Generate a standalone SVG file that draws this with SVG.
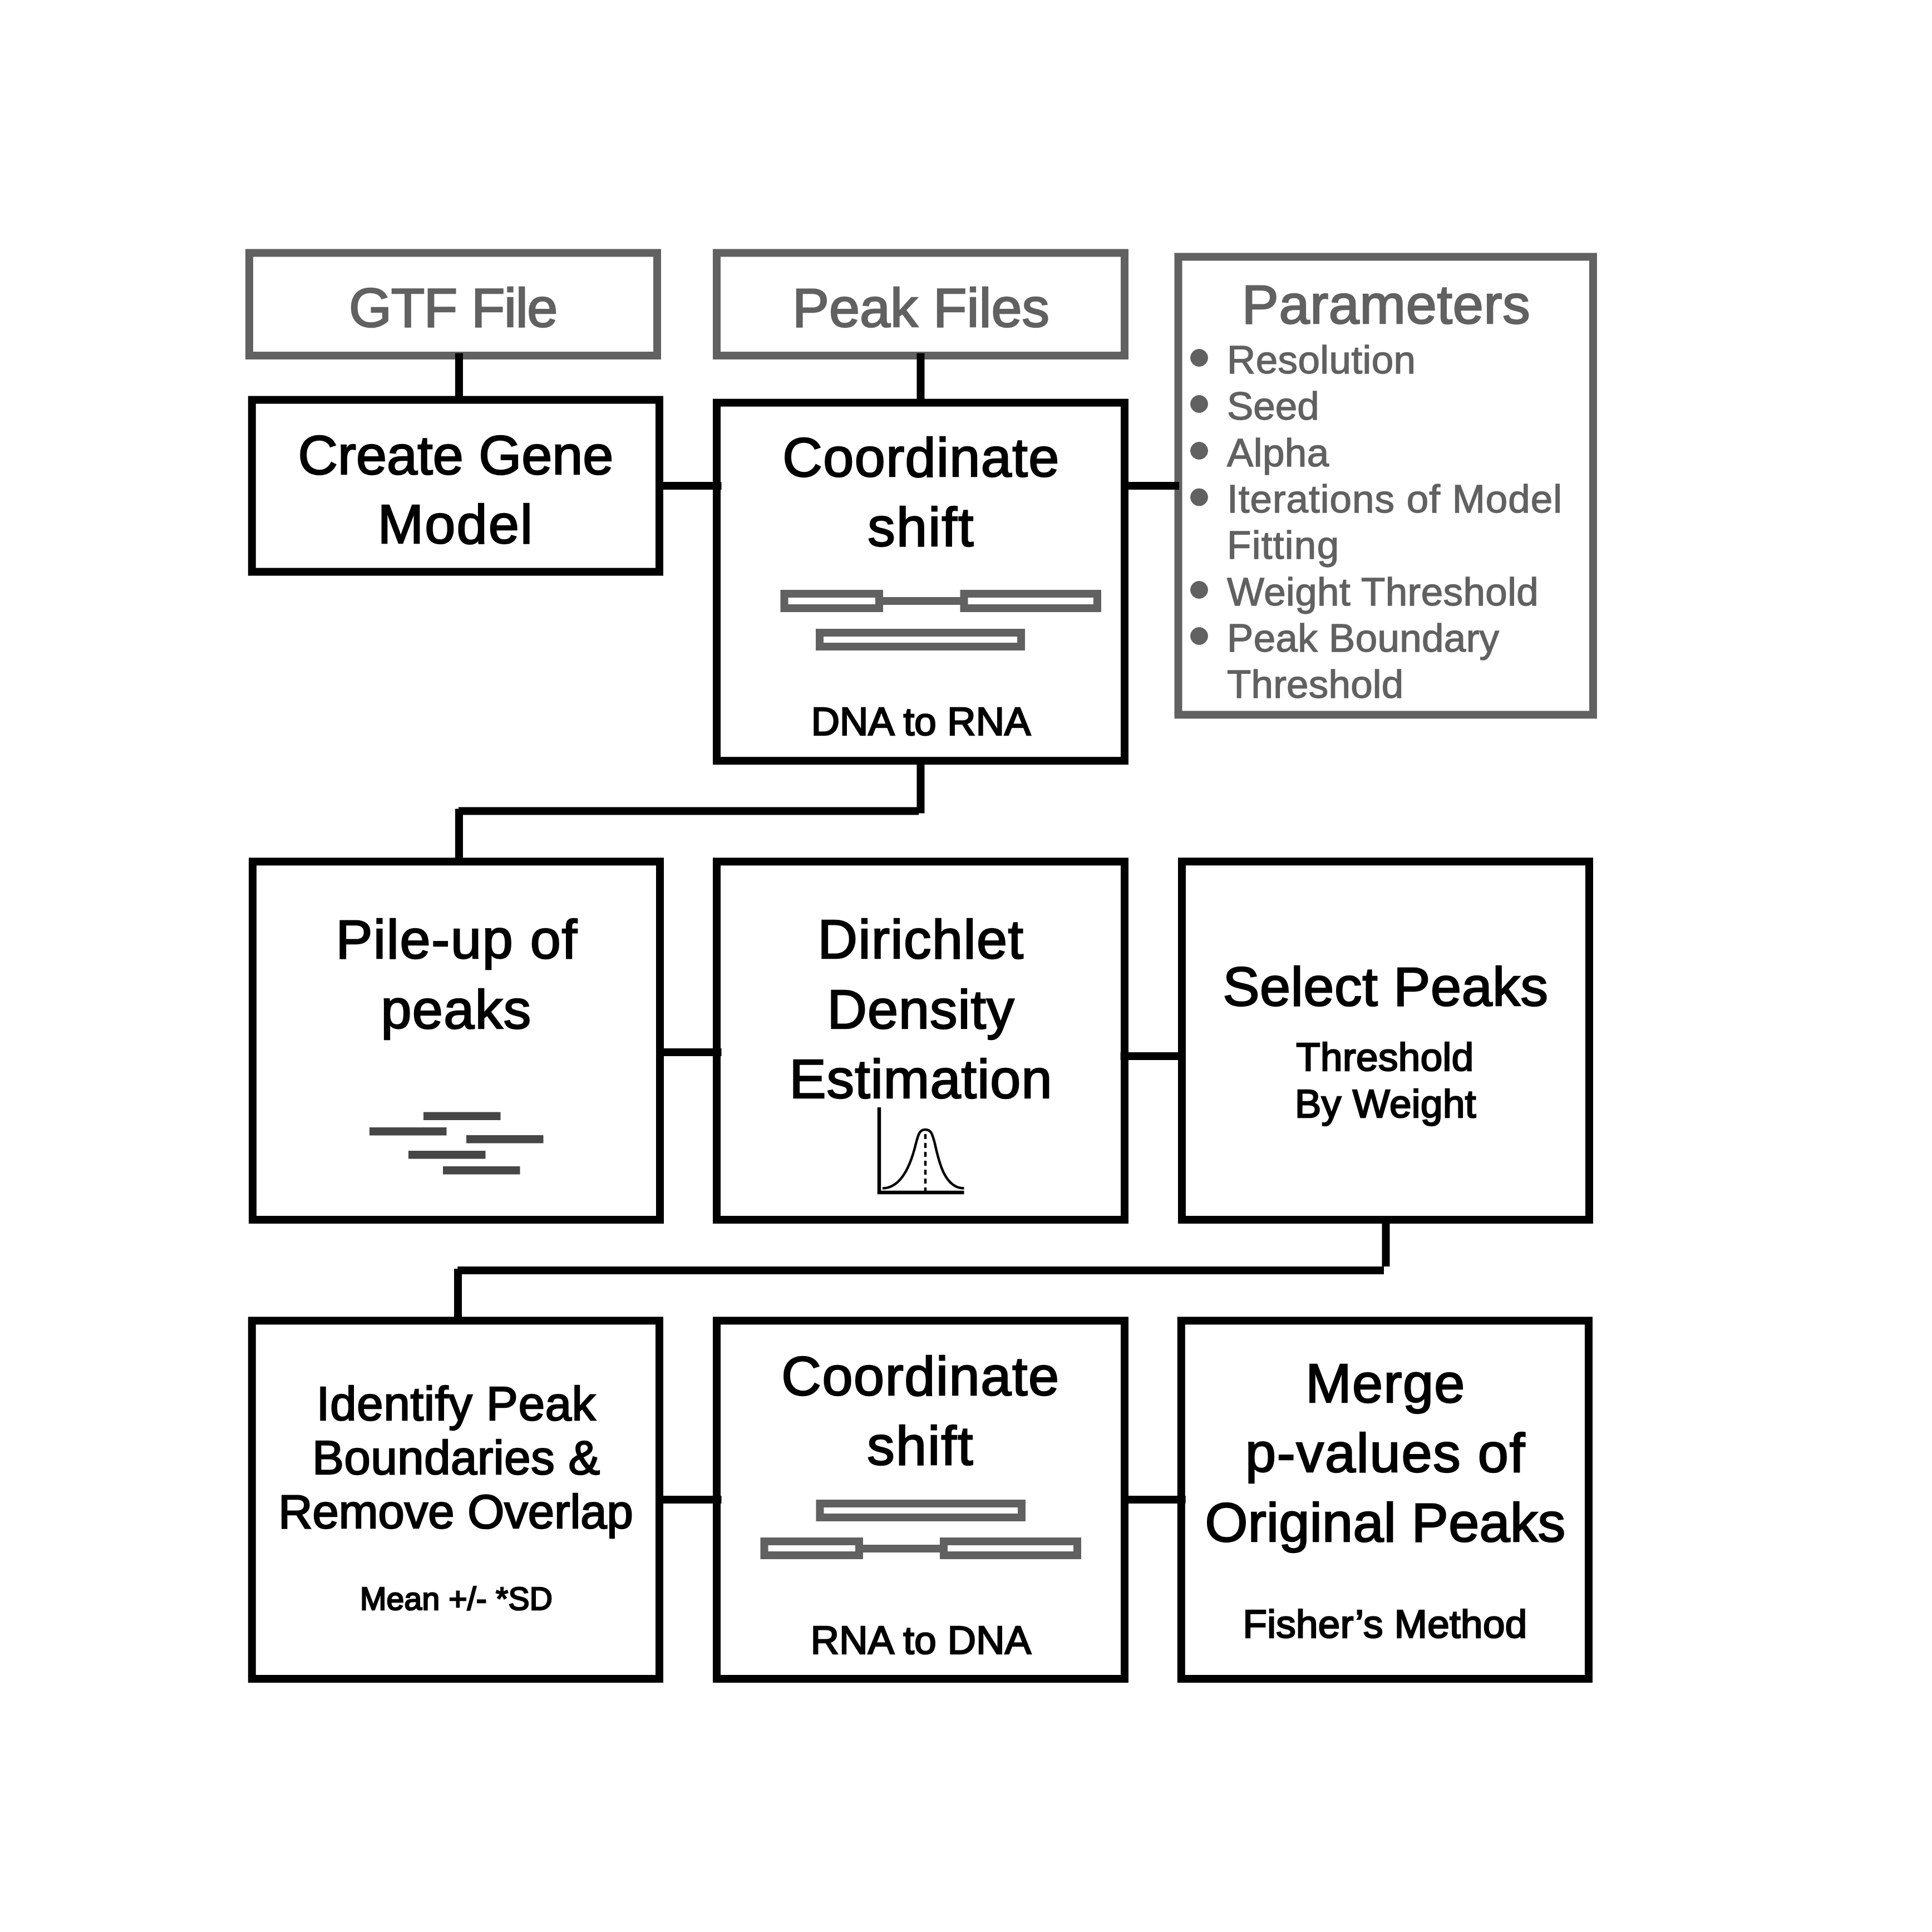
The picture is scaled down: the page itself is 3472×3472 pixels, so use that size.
<svg xmlns="http://www.w3.org/2000/svg" width="3472" height="3472" viewBox="0 0 3472 3472">
<style>
text{font-family:"Liberation Sans",Arial,sans-serif;text-anchor:middle;fill:#000;stroke:#000;stroke-width:2.5px}
.b{fill:#fff;stroke:#000;stroke-width:14}
.g{fill:#fff;stroke:#616161;stroke-width:14}
.gt,.gt text{fill:#616161;stroke:#616161}
.h{font-size:99px}
.m{font-size:85px}
.s{font-size:71px}
.xs{font-size:57px}
.l{text-anchor:start;font-size:71px;stroke-width:1.4px}
.c{fill:none;stroke:#000;stroke-width:14}
.e{fill:#fff;stroke:#616161;stroke-width:14}
.j{fill:#616161}
.p{fill:#464646}
</style>
<rect width="3472" height="3472" fill="#fff"/>
<g id="gtf-file"><rect class="g" x="448" y="454.5" width="733" height="184.5"/><text class="h gt" x="814" y="586.5" letter-spacing="-1.4">GTF File</text></g>
<g id="peak-files"><rect class="g" x="1288" y="454.5" width="733" height="184.5"/><text class="h gt" x="1655" y="586.5">Peak Files</text></g>
<g id="parameters">
<rect class="g" x="2117.5" y="461.5" width="745.5" height="823"/>
<g class="gt">
<text class="h" x="2491" y="581" letter-spacing=".7">Parameters</text>
<circle cx="2155" cy="643" r="15.5"/><circle cx="2155" cy="726" r="15.5"/><circle cx="2155" cy="810" r="15.5"/><circle cx="2155" cy="893.5" r="15.5"/><circle cx="2155" cy="1060" r="15.5"/><circle cx="2155" cy="1143" r="15.5"/>
<text class="l" x="2205" y="671" letter-spacing=".4">Resolution</text>
<text class="l" x="2205" y="754">Seed</text>
<text class="l" x="2205" y="838" letter-spacing=".4">Alpha</text>
<text class="l" x="2205" y="921" letter-spacing="1">Iterations of Model</text>
<text class="l" x="2205" y="1004" letter-spacing="1.3">Fitting</text>
<text class="l" x="2205" y="1088" letter-spacing=".4">Weight Threshold</text>
<text class="l" x="2205" y="1170.5" letter-spacing=".3">Peak Boundary</text>
<text class="l" x="2205" y="1253.5" letter-spacing=".2">Threshold</text>
</g>
</g>
<g id="create-gene-model"><rect class="b" x="452.8" y="718.6" width="732.2" height="309"/><text class="h" x="819" y="851.5">Create Gene</text><text class="h" x="819" y="975.5" letter-spacing="2.2">Model</text></g>
<g id="coordinate-shift-dna-rna">
<rect class="b" x="1288" y="723.7" width="733" height="643.5"/>
<text class="h" x="1655.5" y="856" letter-spacing="1.4">Coordinate</text><text class="h" x="1655.5" y="981" letter-spacing="2.2">shift</text>
<rect class="j" x="1587" y="1073" width="139" height="14"/>
<rect class="e" x="1409.5" y="1067" width="170.5" height="26"/><rect class="e" x="1732.5" y="1067" width="239.5" height="26"/><rect class="e" x="1473" y="1137" width="362" height="25"/>
<text class="s" x="1655" y="1320.5">DNA to RNA</text>
</g>
<g id="pile-up">
<rect class="b" x="454" y="1548.4" width="732" height="643.6"/>
<text class="h" x="821" y="1722" letter-spacing="1.7">Pile-up of</text><text class="h" x="820" y="1848" letter-spacing="1.4">peaks</text>
<rect class="p" x="761" y="1998.5" width="138.5" height="14.5"/><rect class="p" x="664" y="2026" width="138.5" height="14.5"/><rect class="p" x="838" y="2040" width="138.5" height="14.5"/><rect class="p" x="734" y="2068" width="138.5" height="14.5"/><rect class="p" x="796" y="2096" width="138.5" height="14.5"/>
</g>
<g id="dirichlet">
<rect class="b" x="1288" y="1548.4" width="733" height="643.6"/>
<text class="h" x="1655" y="1722" letter-spacing="1.5">Dirichlet</text><text class="h" x="1655" y="1848" letter-spacing="1">Density</text><text class="h" x="1655" y="1973" letter-spacing="1.1">Estimation</text>
<path d="M1580 1990V2143H1732.5" fill="none" stroke="#000" stroke-width="6.5"/>
<path d="M1586 2135.5C1625 2135 1640 2080 1646 2055C1651 2035 1654 2030 1663 2030C1672 2030 1675 2035 1680 2055C1686 2080 1695 2135 1732.5 2135.5" fill="none" stroke="#000" stroke-width="4.5"/>
<path d="M1663 2038V2140" fill="none" stroke="#000" stroke-width="4.5" stroke-dasharray="9 7"/>
</g>
<g id="select-peaks">
<rect class="b" x="2124" y="1548.3" width="732" height="643.7"/>
<text class="h" x="2490" y="1806.5" letter-spacing=".6">Select Peaks</text><text class="s" x="2489" y="1923.5" letter-spacing=".4">Threshold</text><text class="s" x="2490" y="2007.5" letter-spacing=".4">By Weight</text>
</g>
<g id="identify-peak-boundaries">
<rect class="b" x="452.8" y="2373.4" width="732.2" height="643.6"/>
<text class="m" x="820" y="2552" letter-spacing=".85">Identify Peak</text><text class="m" x="820" y="2649" letter-spacing=".6">Boundaries &amp;</text><text class="m" x="819" y="2746">Remove Overlap</text><text class="xs" x="820" y="2892.5" letter-spacing=".2">Mean +/- *SD</text>
</g>
<g id="coordinate-shift-rna-dna">
<rect class="b" x="1288" y="2373.4" width="733" height="643.6"/>
<text class="h" x="1654.5" y="2507" letter-spacing="1.6">Coordinate</text><text class="h" x="1654.5" y="2631.5" letter-spacing="2.2">shift</text>
<rect class="j" x="1551" y="2776" width="139" height="14"/>
<rect class="e" x="1473.5" y="2702" width="362.5" height="25"/><rect class="e" x="1373.5" y="2770" width="170.5" height="25"/><rect class="e" x="1696" y="2770" width="240" height="25"/>
<text class="s" x="1655" y="2972" letter-spacing=".2">RNA to DNA</text>
</g>
<g id="merge-p-values">
<rect class="b" x="2122.8" y="2373.4" width="732.2" height="643.6"/>
<text class="h" x="2490" y="2519.5" letter-spacing="1.4">Merge</text><text class="h" x="2490" y="2645" letter-spacing="1.8">p-values of</text><text class="h" x="2489.5" y="2770" letter-spacing=".3">Original Peaks</text><text class="s" x="2489" y="2943" letter-spacing=".3">Fisher’s Method</text>
</g>
<g id="connectors">
<path class="c" d="M825 634.7V725"/>
<path class="c" d="M1654.5 634.7V730"/>
<path class="c" d="M1192 873H1296.5"/>
<path class="c" d="M2027 873H2119"/>
<path class="c" d="M1654.5 1374V1461.6"/>
<path class="c" d="M1651 1457.6H824"/>
<path class="c" d="M825 1453.6V1548"/>
<path class="c" d="M1179 1891H1296.5"/>
<path class="c" d="M2013.6 1898H2130.7"/>
<path class="c" d="M2490.5 2185V2276"/>
<path class="c" d="M2487 2283H822.4"/>
<path class="c" d="M823 2280V2373"/>
<path class="c" d="M1192 2695H1296.5"/>
<path class="c" d="M2028 2695H2130.7"/>
</g>
</svg>
